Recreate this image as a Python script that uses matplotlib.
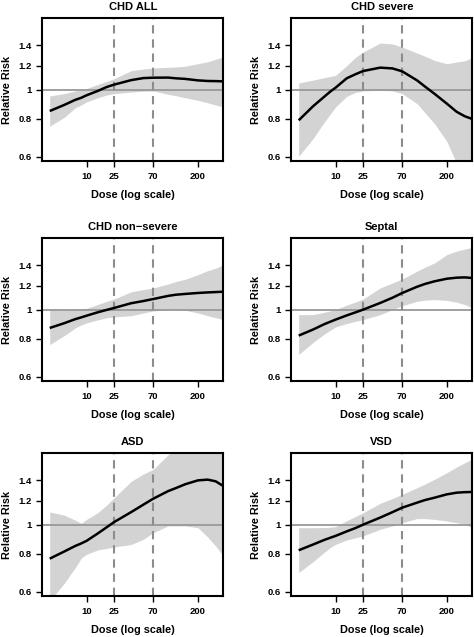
import numpy as np
import matplotlib
matplotlib.use("Agg")
import matplotlib.pyplot as plt
from matplotlib.ticker import FixedLocator, FixedFormatter, NullLocator

plt.rcParams['font.family'] = ['Liberation Sans', 'DejaVu Sans']

# ---- data ----
doses = [0, 3, 6, 8, 10, 15, 20, 25, 40, 55, 70, 100, 120, 150, 200, 250, 300, 356]

titles = ["CHD ALL", "CHD severe", "CHD non\u2212severe", "Septal", "ASD", "VSD"]

rr_chd_all = [0.85, 0.89, 0.925, 0.94, 0.958, 0.99, 1.02, 1.039, 1.075, 1.092, 1.095, 1.096, 1.09, 1.085, 1.073, 1.068, 1.067, 1.065]
lo_chd_all = [0.757, 0.81, 0.87, 0.89, 0.911, 0.94, 0.96, 0.97, 0.982, 0.988, 0.99, 0.965, 0.955, 0.94, 0.922, 0.905, 0.89, 0.877]
hi_chd_all = [0.953, 0.97, 0.99, 1.0, 1.008, 1.04, 1.065, 1.087, 1.155, 1.17, 1.179, 1.185, 1.188, 1.195, 1.218, 1.235, 1.26, 1.281]

rr_severe = [0.792, 0.882, 0.947, 0.985, 1.015, 1.09, 1.125, 1.152, 1.182, 1.175, 1.149, 1.073, 1.025, 0.97, 0.899, 0.845, 0.817, 0.80]
lo_severe = [0.603, 0.69, 0.78, 0.83, 0.877, 0.95, 0.98, 0.99, 0.995, 0.99, 0.97, 0.899, 0.84, 0.773, 0.675, 0.57, 0.52, 0.46]
hi_severe = [1.052, 1.075, 1.095, 1.105, 1.115, 1.2, 1.28, 1.331, 1.425, 1.415, 1.382, 1.32, 1.29, 1.249, 1.218, 1.234, 1.245, 1.275]

rr_nonsevere = [0.87, 0.902, 0.93, 0.943, 0.955, 0.98, 0.998, 1.013, 1.05, 1.068, 1.084, 1.11, 1.12, 1.127, 1.135, 1.14, 1.143, 1.146]
lo_nonsevere = [0.767, 0.82, 0.87, 0.89, 0.904, 0.925, 0.94, 0.946, 0.955, 0.975, 0.99, 1.0, 1.0, 0.995, 0.975, 0.955, 0.94, 0.927]
hi_nonsevere = [1.0, 1.0, 1.005, 1.007, 1.01, 1.04, 1.065, 1.084, 1.145, 1.165, 1.179, 1.215, 1.238, 1.26, 1.304, 1.345, 1.37, 1.407]

rr_septal = [0.821, 0.86, 0.895, 0.912, 0.927, 0.957, 0.98, 1.0, 1.052, 1.095, 1.135, 1.19, 1.215, 1.24, 1.265, 1.275, 1.278, 1.272]
lo_septal = [0.711, 0.78, 0.83, 0.855, 0.877, 0.9, 0.915, 0.927, 0.963, 1.0, 1.031, 1.065, 1.075, 1.079, 1.073, 1.058, 1.04, 1.013]
hi_septal = [0.963, 0.963, 0.98, 0.99, 1.0, 1.035, 1.06, 1.084, 1.179, 1.225, 1.262, 1.34, 1.38, 1.425, 1.52, 1.56, 1.585, 1.605]

rr_asd = [0.772, 0.815, 0.85, 0.867, 0.884, 0.935, 0.98, 1.02, 1.1, 1.165, 1.218, 1.29, 1.32, 1.36, 1.4, 1.408, 1.39, 1.341]
lo_asd = [0.56, 0.64, 0.72, 0.775, 0.798, 0.825, 0.835, 0.844, 0.86, 0.895, 0.941, 0.99, 0.99, 0.99, 0.977, 0.91, 0.85, 0.788]
hi_asd = [1.101, 1.075, 1.035, 1.01, 1.041, 1.095, 1.16, 1.227, 1.39, 1.47, 1.522, 1.7, 1.78, 1.85, 2.0, 2.1, 2.2, 2.3]

rr_vsd = [0.823, 0.86, 0.89, 0.905, 0.918, 0.95, 0.975, 1.0, 1.055, 1.1, 1.138, 1.182, 1.205, 1.227, 1.259, 1.275, 1.28, 1.282]
lo_vsd = [0.695, 0.755, 0.81, 0.84, 0.861, 0.89, 0.905, 0.918, 0.965, 0.99, 1.015, 1.047, 1.047, 1.041, 1.028, 1.015, 1.003, 0.977]
hi_vsd = [0.977, 0.977, 0.978, 0.98, 0.985, 1.03, 1.065, 1.095, 1.176, 1.22, 1.259, 1.324, 1.36, 1.411, 1.484, 1.55, 1.6, 1.65]

x_ticks = [10, 25, 70, 200]
x_tick_labels = ["10", "25", "70", "200"]
y_ticks = [0.6, 0.8, 1.0, 1.2, 1.4]
y_tick_labels = ["0.6", "0.8", "1", "1.2", "1.4"]
ref_doses = [25, 70]

panels = [
    (rr_chd_all, lo_chd_all, hi_chd_all),
    (rr_severe, lo_severe, hi_severe),
    (rr_nonsevere, lo_nonsevere, hi_nonsevere),
    (rr_septal, lo_septal, hi_septal),
    (rr_asd, lo_asd, hi_asd),
    (rr_vsd, lo_vsd, hi_vsd),
]

# ---- layout ----
W, H = 474, 637
fig = plt.figure(figsize=(W / 100, H / 100), dpi=100)

col_left = [42.3, 291.3]
col_width = 181.0
row_top = [18.3, 238.3, 453.3]
row_height = 143.0

OFF = 8.0
fwd = lambda x: np.log(np.asarray(x, dtype=float) + OFF)
inv = lambda y: np.exp(y) - OFF

for i, (rr, lo, hi) in enumerate(panels):
    r, c = divmod(i, 2)
    ax = fig.add_axes([col_left[c] / W, 1 - (row_top[r] + row_height) / H,
                       col_width / W, row_height / H])
    ax.set_xscale('function', functions=(fwd, inv))
    ax.set_yscale('log')
    ax.set_xlim(-1.2, 356)
    ax.set_ylim(0.58, 1.72)

    ax.fill_between(doses, lo, hi, color='#d3d3d3', lw=0, zorder=1)
    ax.axhline(1.0, color='#999999', lw=1.3, zorder=2)
    for d in ref_doses:
        ax.axvline(d, color='#8c8c8c', lw=1.5, ls=(0, (4, 2.8)), zorder=2)
    ax.plot(doses, rr, color='black', lw=1.8, zorder=3,
            solid_capstyle='butt', solid_joinstyle='round')

    ax.xaxis.set_major_locator(FixedLocator(x_ticks))
    ax.xaxis.set_major_formatter(FixedFormatter(x_tick_labels))
    ax.xaxis.set_minor_locator(NullLocator())
    ax.yaxis.set_major_locator(FixedLocator(y_ticks))
    ax.yaxis.set_major_formatter(FixedFormatter(y_tick_labels))
    ax.yaxis.set_minor_locator(NullLocator())

    ax.tick_params(axis='both', direction='out', length=4.2, width=1.0,
                   labelsize=6.8, pad=3.5)
    for lab in ax.get_xticklabels() + ax.get_yticklabels():
        lab.set_fontweight('bold')
    for sp in ax.spines.values():
        sp.set_linewidth(1.5)

    ax.set_title(titles[i], fontsize=8.0, fontweight='bold', pad=6.0)
    ax.set_xlabel("Dose (log scale)", fontsize=7.8, fontweight='bold', labelpad=6.5)
    ax.set_ylabel("Relative Risk", fontsize=7.8, fontweight='bold', labelpad=4.5)

fig.savefig("out.png", dpi=100)
